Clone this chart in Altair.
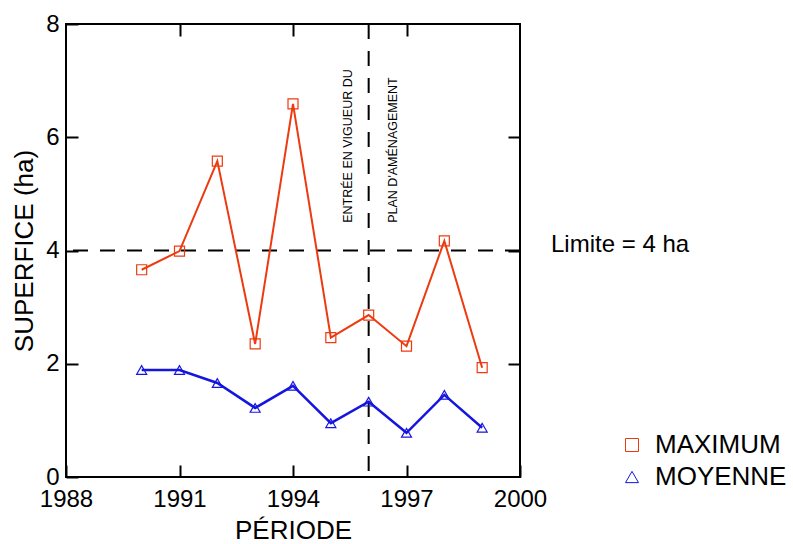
import altair as alt
import pandas as pd

years = [1990, 1991, 1992, 1993, 1994, 1995, 1996, 1997, 1998, 1999]
maximum = [3.66, 3.99, 5.58, 2.35, 6.59, 2.46, 2.86, 2.31, 4.17, 1.93]
moyenne = [1.89, 1.89, 1.66, 1.22, 1.61, 0.95, 1.33, 0.78, 1.45, 0.87]
series_names = ["MAXIMUM", "MOYENNE"]
series_colors = ["#ee3a10", "#1515e0"]
series_shapes = ["square", "triangle-up"]
x_ticks = [1988, 1991, 1994, 1997, 2000]
y_ticks = [0, 2, 4, 6, 8]
limit_value = 4
event_year = 1996

FONT = "Liberation Sans"

df = pd.DataFrame({
    "year": years * 2,
    "value": maximum + moyenne,
    "series": [series_names[0]] * len(years) + [series_names[1]] * len(years),
})

xs = alt.Scale(domain=[1988, 2000], nice=False, zero=False)
ys = alt.Scale(domain=[0, 8], nice=False, zero=False)

base = alt.Chart(df)

line_max = base.transform_filter(alt.datum.series == series_names[0]).mark_line(
    color=series_colors[0], strokeWidth=2
).encode(
    x=alt.X("year:Q", scale=xs, axis=alt.Axis(
        values=x_ticks, format="d", title="PÉRIODE", grid=False, domain=False,
        tickSize=12, offset=-12, tickColor="black", tickWidth=2,
        labelFontSize=24, labelColor="black", labelPadding=10, labelFont=FONT,
        titleFontSize=26, titleFontWeight="normal", titleColor="black", titlePadding=6, titleFont=FONT,
        labelFlush=False, labelOverlap=False)),
    y=alt.Y("value:Q", scale=ys, axis=alt.Axis(
        values=y_ticks, title="SUPERFICE (ha)", grid=False, domain=False,
        tickSize=12, offset=-12, tickColor="black", tickWidth=2,
        labelFontSize=24, labelColor="black", labelPadding=7, labelFont=FONT,
        titleFontSize=26, titleFontWeight="normal", titleColor="black", titlePadding=8, titleFont=FONT,
        labelFlush=False, labelOverlap=False)),
)

line_moy = base.transform_filter(alt.datum.series == series_names[1]).mark_line(
    color=series_colors[1], strokeWidth=2.5
).encode(
    x=alt.X("year:Q", scale=xs, axis=None),
    y=alt.Y("value:Q", scale=ys, axis=None),
)

legend_cfg = alt.Legend(title=None, orient="none", legendX=553, legendY=408,
                        labelFontSize=26, labelColor="black", labelFont=FONT,
                        symbolSize=169, symbolStrokeWidth=1, labelOffset=10,
                        rowPadding=6)

points = base.mark_point(filled=False, size=100, strokeWidth=1.2, opacity=1).encode(
    x=alt.X("year:Q", scale=xs, axis=None),
    y=alt.Y("value:Q", scale=ys, axis=None),
    color=alt.Color("series:N", scale=alt.Scale(domain=series_names, range=series_colors),
                    legend=legend_cfg),
    shape=alt.Shape("series:N", scale=alt.Scale(domain=series_names, range=series_shapes),
                    legend=legend_cfg),
)

hline = alt.Chart(pd.DataFrame({"y": [limit_value]})).mark_rule(
    color="black", strokeWidth=2, strokeDash=[15, 12]
).encode(
    y=alt.Y("y:Q", scale=ys, axis=alt.Axis(
        orient="right", values=[2, 4, 6], labels=False, title=None, grid=False, domain=False,
        tickSize=12, offset=-12, tickColor="black", tickWidth=2)),
)

vline = alt.Chart(pd.DataFrame({"x": [event_year]})).mark_rule(
    color="black", strokeWidth=2, strokeDash=[15, 12]
).encode(
    x=alt.X("x:Q", scale=xs, axis=alt.Axis(
        orient="top", values=[1991, 1994, 1997], labels=False, title=None, grid=False, domain=False,
        tickSize=12, offset=-12, tickColor="black", tickWidth=2)),
)

ann_df = pd.DataFrame({
    "x": [1995.45, 1996.64],
    "y": [4.49, 4.49],
    "t": ["ENTRÉE EN VIGUEUR DU", "PLAN D'AMÉNAGEMENT"],
})
annotations = alt.Chart(ann_df).mark_text(
    angle=270, align="left", baseline="middle", fontSize=12.5, font=FONT, color="black"
).encode(
    x=alt.X("x:Q", scale=xs, axis=None),
    y=alt.Y("y:Q", scale=ys, axis=None),
    text="t:N",
)

limit_df = pd.DataFrame({"x": [2000.82], "y": [4.10], "t": ["Limite = 4 ha"]})
limit_text = alt.Chart(limit_df).mark_text(
    align="left", baseline="middle", fontSize=24, font=FONT, color="black"
).encode(
    x=alt.X("x:Q", scale=xs, axis=None),
    y=alt.Y("y:Q", scale=ys, axis=None),
    text="t:N",
)

chart = alt.layer(
    hline, vline, line_max, line_moy, points, annotations, limit_text
).resolve_axis(x="independent", y="independent").properties(
    width=454, height=453,
    autosize=alt.AutoSizeParams(type="none"),
    padding={"left": 66, "top": 24, "right": 273, "bottom": 67},
).configure(font=FONT).configure_view(stroke="black", strokeWidth=2)

chart.save("out.html", embed_options={"renderer": "svg", "actions": False})
